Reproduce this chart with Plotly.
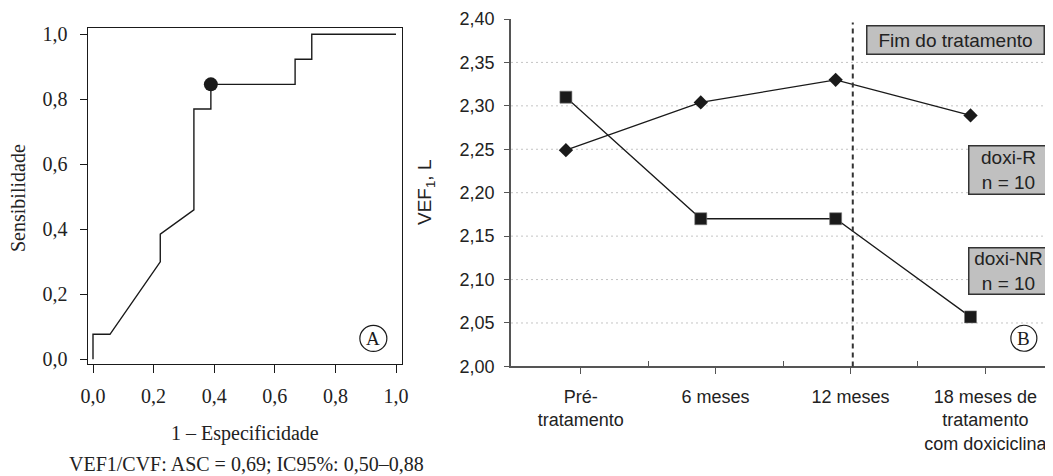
import plotly.graph_objects as go

# The page body adds an 8 px margin; the figure is sized so that the
# reference's 1053x476 frame is filled exactly.
OFF = 8
W, H = 1053 - OFF, 476 - OFF

# ---------------- Panel A: ROC curve ----------------
roc_fpr = [0.0, 0.0, 0.056, 0.222, 0.222, 0.333, 0.333, 0.389, 0.389, 0.667, 0.667, 0.722, 0.722, 1.0]
roc_tpr = [0.0, 0.077, 0.077, 0.30, 0.385, 0.46, 0.77, 0.77, 0.846, 0.846, 0.923, 0.923, 1.0, 1.0]
cut_fpr = [0.389]
cut_tpr = [0.846]
roc_ticks = [0.0, 0.2, 0.4, 0.6, 0.8, 1.0]
roc_ticklabels = ["0,0", "0,2", "0,4", "0,6", "0,8", "1,0"]
roc_xtitle = "1 \u2013 Especificidade"
roc_ytitle = "Sensibilidade"
roc_caption = "VEF1/CVF: ASC = 0,69; IC95%: 0,50\u20130,88"

# ---------------- Panel B: VEF1 over time ----------------
periods = ["Pré-<br>tratamento", "6 meses", "12 meses", "18 meses de<br>tratamento<br>com doxiciclina"]
doxi_r = [2.249, 2.304, 2.330, 2.289]
doxi_nr = [2.310, 2.170, 2.170, 2.057]
vef_ticks = [2.00, 2.05, 2.10, 2.15, 2.20, 2.25, 2.30, 2.35, 2.40]
vef_ticklabels = ["2,00", "2,05", "2,10", "2,15", "2,20", "2,25", "2,30", "2,35", "2,40"]
grid_vals = [2.05, 2.10, 2.15, 2.20, 2.25, 2.30, 2.35]
end_of_treatment = 2  # index of "12 meses"

SERIF = "Liberation Serif, DejaVu Serif, serif"
SANS = "Liberation Sans, Arial, sans-serif"
INK = "#1a1a1a"

def px(x):
    return (x - OFF) / W

def py(y):
    return 1 - (y - OFF) / H

marker_shift = -0.11
xs = [i + marker_shift for i in range(len(periods))]

fig = go.Figure()

# ROC curve
fig.add_trace(go.Scatter(x=roc_fpr, y=roc_tpr, mode="lines",
                         line=dict(color=INK, width=1.4),
                         xaxis="x", yaxis="y", showlegend=False, hoverinfo="skip"))
fig.add_trace(go.Scatter(x=cut_fpr, y=cut_tpr, mode="markers",
                         marker=dict(symbol="circle", size=14, color=INK),
                         xaxis="x", yaxis="y", showlegend=False))

# Panel B lines
fig.add_trace(go.Scatter(x=xs, y=doxi_r, mode="lines+markers",
                         line=dict(color=INK, width=1.3),
                         marker=dict(symbol="diamond", size=11, color=INK),
                         xaxis="x2", yaxis="y2", showlegend=False))
fig.add_trace(go.Scatter(x=xs, y=doxi_nr, mode="lines+markers",
                         line=dict(color=INK, width=1.3),
                         marker=dict(symbol="square", size=12, color=INK,
                                     line=dict(color="#777", width=0.6)),
                         xaxis="x2", yaxis="y2", showlegend=False))

shapes = []
# Dotted gridlines (panel B)
for v in grid_vals:
    shapes.append(dict(type="line", xref="x2 domain", yref="y2", x0=0, x1=1, y0=v, y1=v,
                       line=dict(color="#c4c4c4", width=1, dash="2px,3px"), layer="below"))
# End-of-treatment dashed line
shapes.append(dict(type="line", xref="x2", yref="y2 domain", x0=end_of_treatment + 0.017,
                   x1=end_of_treatment + 0.017, y0=0, y1=0.99,
                   line=dict(color="#333", width=2, dash="5px,4px")))
# Circles around panel letters
shapes.append(dict(type="circle", xref="x domain", yref="y domain",
                   xsizemode="pixel", ysizemode="pixel",
                   xanchor=0.908, yanchor=0.077, x0=-13.5, x1=13.5, y0=-13, y1=13,
                   line=dict(color=INK, width=1.2)))
shapes.append(dict(type="circle", xref="x2 domain", yref="y2 domain",
                   xsizemode="pixel", ysizemode="pixel",
                   xanchor=0.948, yanchor=0.081, x0=-13, x1=13, y0=-13, y1=13,
                   line=dict(color=INK, width=1.2)))

annotations = [
    dict(text="A", xref="x domain", yref="y domain", x=0.908, y=0.077, showarrow=False,
         font=dict(family=SERIF, size=19, color=INK), xanchor="center", yanchor="middle"),
    dict(text="B", xref="x2 domain", yref="y2 domain", x=0.948, y=0.081, showarrow=False,
         font=dict(family=SERIF, size=19, color=INK), xanchor="center", yanchor="middle"),
    dict(text=roc_ytitle, xref="paper", yref="paper", x=px(18), y=py(198), textangle=-90,
         showarrow=False, font=dict(family=SERIF, size=20, color="#222"),
         xanchor="center", yanchor="middle"),
    dict(text=roc_xtitle, xref="paper", yref="paper", x=px(245), y=py(433),
         showarrow=False, font=dict(family=SERIF, size=20, color="#222"),
         xanchor="center", yanchor="middle"),
    dict(text=roc_caption, xref="paper", yref="paper", x=px(246), y=py(464),
         showarrow=False, font=dict(family=SERIF, size=20, color="#222"),
         xanchor="center", yanchor="middle"),
    dict(text="VEF<sub>1</sub>, L", xref="paper", yref="paper", x=px(426), y=py(193),
         textangle=-90, showarrow=False, font=dict(family=SANS, size=19, color="#222"),
         xanchor="center", yanchor="middle"),
    dict(text="Fim do tratamento", xref="paper", yref="paper", x=px(955), y=py(40.4),
         showarrow=False, font=dict(family=SANS, size=19, color="#222"),
         bgcolor="#c0c0c0", bordercolor="#333", borderwidth=1.5, borderpad=0,
         width=176, height=27, xanchor="center", yanchor="middle"),
    dict(text="doxi-R<br>n = 10", xref="paper", yref="paper", x=px(1008.8), y=py(170.3),
         showarrow=False, font=dict(family=SANS, size=19, color="#222"),
         bgcolor="#c0c0c0", bordercolor="#333", borderwidth=1.5, borderpad=0,
         width=78, height=47, xanchor="center", yanchor="middle"),
    dict(text="doxi-NR<br>n = 10", xref="paper", yref="paper", x=px(1008.8), y=py(270.7),
         showarrow=False, font=dict(family=SANS, size=19, color="#222"),
         bgcolor="#c0c0c0", bordercolor="#333", borderwidth=1.5, borderpad=0,
         width=78, height=45, xanchor="center", yanchor="middle"),
]

fig.update_layout(
    template="none",
    width=W, height=H,
    margin=dict(l=0, r=0, t=0, b=0, autoexpand=False),
    paper_bgcolor="white", plot_bgcolor="white",
    showlegend=False,
    xaxis=dict(domain=[px(87.7), px(402.3)], range=[-0.0175, 1.0208], automargin=False,
               tickmode="array", tickvals=roc_ticks, ticktext=roc_ticklabels,
               ticks="outside", ticklen=8, tickwidth=1.2, tickcolor=INK,
               showline=True, linecolor=INK, linewidth=1.3, mirror=True,
               showgrid=False, zeroline=False, anchor="y",
               tickfont=dict(family=SERIF, size=20, color="#222"), ticklabelstandoff=6),
    yaxis=dict(domain=[py(364.3), py(28.3)], range=[-0.01538, 1.01846], automargin=False,
               tickmode="array", tickvals=roc_ticks, ticktext=roc_ticklabels,
               ticks="outside", ticklen=7, tickwidth=1.2, tickcolor=INK,
               showline=True, linecolor=INK, linewidth=1.3, mirror=True,
               showgrid=False, zeroline=False, anchor="x",
               tickfont=dict(family=SERIF, size=20, color="#222"), ticklabelstandoff=8),
    xaxis2=dict(domain=[px(511), px(1052)], range=[-0.517, 3.494], automargin=False,
                tickmode="array", tickvals=list(range(len(periods))), ticktext=periods,
                ticks="outside", ticklen=6, tickwidth=1.3, tickcolor="#555",
                minor=dict(tickmode="array", tickvals=[0.5, 1.5, 2.5, 3.5],
                           ticks="inside", ticklen=6, tickwidth=1.3, tickcolor="#555",
                           showgrid=False),
                showline=True, linecolor="#555", linewidth=1.5,
                showgrid=False, zeroline=False, anchor="y2",
                tickfont=dict(family=SANS, size=18, color="#222"), ticklabelstandoff=7),
    yaxis2=dict(domain=[py(366.4), py(19)], range=[2.0, 2.4], automargin=False,
                tickmode="array", tickvals=vef_ticks, ticktext=vef_ticklabels,
                ticks="outside", ticklen=5, tickwidth=1.3, tickcolor="#555",
                showline=True, linecolor="#555", linewidth=1.5,
                showgrid=False, zeroline=False, anchor="x2",
                tickfont=dict(family=SANS, size=18, color="#222"), ticklabelstandoff=6),
    shapes=shapes,
    annotations=annotations,
)

fig.write_html("out.html")
